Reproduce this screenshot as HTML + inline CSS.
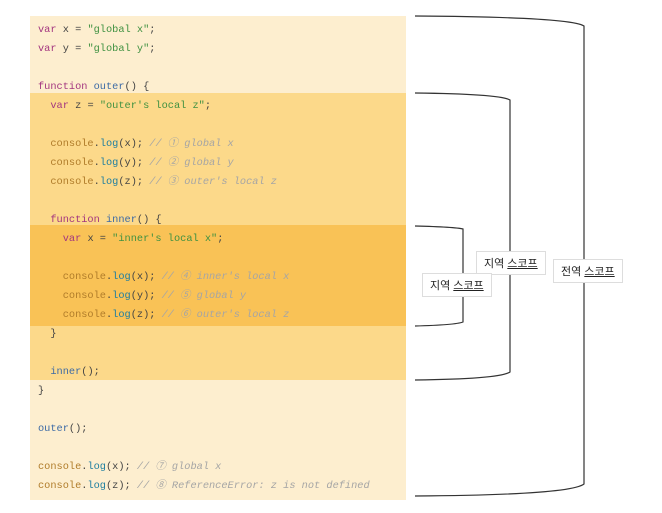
<!DOCTYPE html>
<html><head><meta charset="utf-8"><style>
body{margin:0;width:662px;height:513px;background:#fff;position:relative;overflow:hidden;font-family:"Liberation Sans","Noto Sans CJK KR",sans-serif}
.code{position:absolute;left:30px;top:16px;width:376px;height:484px;background:#fdeecf}
.b1{position:absolute;left:30px;top:93px;width:376px;height:287px;background:#fcd98a}
.b2{position:absolute;left:30px;top:225px;width:376px;height:101px;background:#f9c256}
pre{position:absolute;left:38px;top:21px;margin:0;font:10.3px/19px "Liberation Mono","Noto Sans CJK KR",monospace;color:#444}
.k{color:#a3357f}.s{color:#3f9141}.f{color:#3c6aa5}.c{color:#b07c2a}.l{color:#1e7ea0}.m{color:#a5a5a5;font-style:italic}
.lab{position:absolute;background:#fff;border:1px solid #ddd;font-size:11px;padding:3px 7px;color:#222}
.lab u{text-decoration:underline}
</style></head><body>
<div class="code"></div><div class="b1"></div><div class="b2"></div>
<pre><span class="k">var</span> x = <span class="s">"global x"</span>;
<span class="k">var</span> y = <span class="s">"global y"</span>;

<span class="k">function</span> <span class="f">outer</span>() {
  <span class="k">var</span> z = <span class="s">"outer's local z"</span>;

  <span class="c">console</span>.<span class="l">log</span>(x); <span class="m">// ① global x</span>
  <span class="c">console</span>.<span class="l">log</span>(y); <span class="m">// ② global y</span>
  <span class="c">console</span>.<span class="l">log</span>(z); <span class="m">// ③ outer's local z</span>

  <span class="k">function</span> <span class="f">inner</span>() {
    <span class="k">var</span> x = <span class="s">"inner's local x"</span>;

    <span class="c">console</span>.<span class="l">log</span>(x); <span class="m">// ④ inner's local x</span>
    <span class="c">console</span>.<span class="l">log</span>(y); <span class="m">// ⑤ global y</span>
    <span class="c">console</span>.<span class="l">log</span>(z); <span class="m">// ⑥ outer's local z</span>
  }

  <span class="f">inner</span>();
}

<span class="f">outer</span>();

<span class="c">console</span>.<span class="l">log</span>(x); <span class="m">// ⑦ global x</span>
<span class="c">console</span>.<span class="l">log</span>(z); <span class="m">// ⑧ ReferenceError: z is not defined</span></pre>
<svg width="662" height="513" style="position:absolute;left:0;top:0" fill="none" stroke="#333" stroke-width="1.2">
<path d="M415 16 Q570 17 584 26 L584 484 Q570 495 415 496"/>
<path d="M415 93 Q500 94 510 100 L510 372 Q500 379 415 380"/>
<path d="M415 226 Q455 227 463 229 L463 322 Q455 325 415 326"/>
</svg>
<div class="lab" style="left:476px;top:251px">지역 <u>스코프</u></div>
<div class="lab" style="left:422px;top:273px">지역 <u>스코프</u></div>
<div class="lab" style="left:553px;top:259px">전역 <u>스코프</u></div>
</body></html>
